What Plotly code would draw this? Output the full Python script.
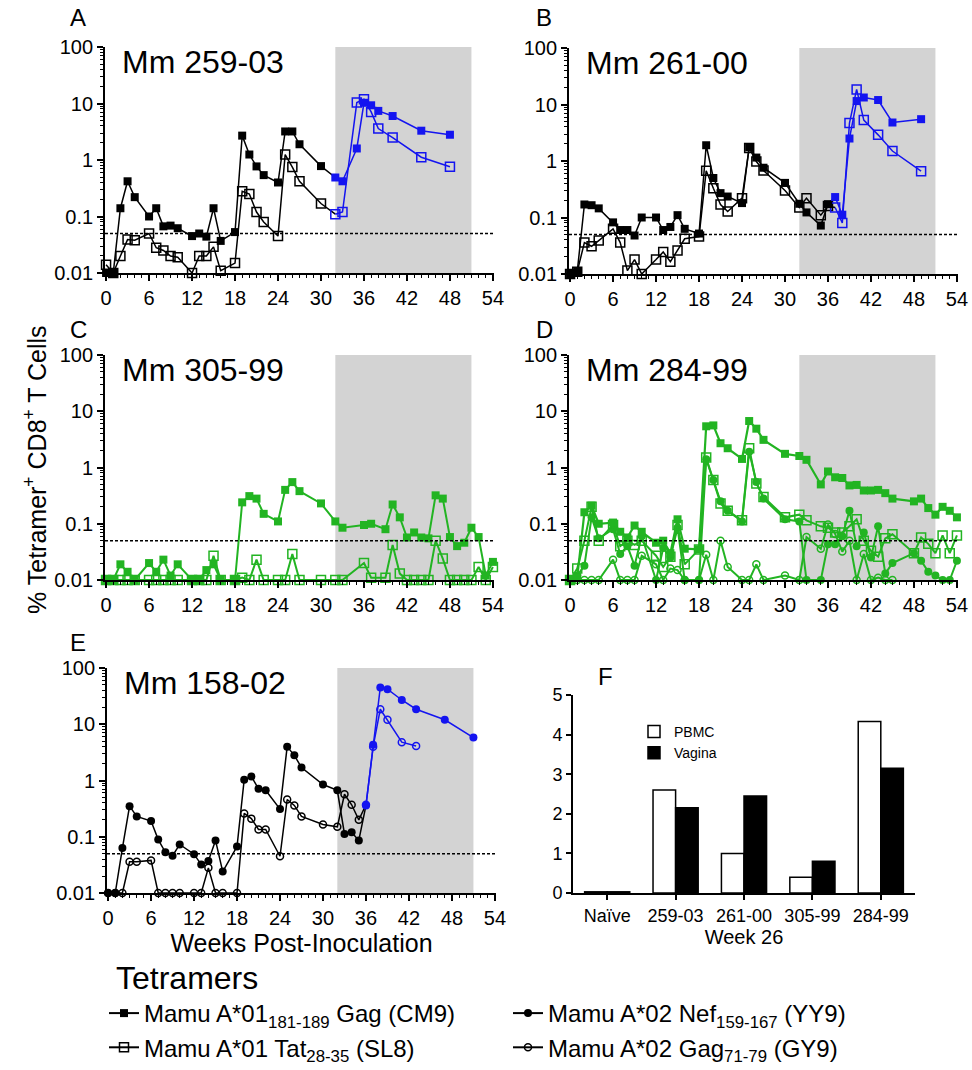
import plotly.graph_objects as go

W, H = 972, 1070
FONT = "Liberation Sans, Arial, Helvetica, sans-serif"
BLACK = "#000000"
BLUE = "#1414f0"
GREEN = "#22b422"
GRAY = "#d3d3d3"

# ---------------- data ----------------
gray_start, gray_end = 32, 51
threshold = 0.05

# Panel A  Mm 259-03
A_wk = [0, 1, 2, 3, 4, 6, 7, 8, 9, 10, 12, 13, 14, 15, 16, 18, 19, 20, 21, 22, 24, 25, 26, 27, 30,
        32, 33, 35, 36, 37, 38, 40, 44, 48]
A_cm9 = [0.01, 0.01, 0.14, 0.42, 0.22, 0.10, 0.14, 0.067, 0.069, 0.062, 0.045, 0.05, 0.044, 0.14, 0.037,
         0.053, 2.7, 1.25, 0.77, 0.54, 0.40, 3.2, 3.2, 1.9, 0.78, 0.49, 0.42, 1.6, 10.3, 9.3, 7.4, 6.0, 3.3, 2.8]
A_sl8 = [0.014, 0.01, 0.02, 0.039, 0.038, 0.05, 0.028, 0.025, 0.02, 0.019, 0.01, 0.02, 0.02, 0.029, 0.011,
         0.015, 0.28, 0.25, 0.12, 0.08, 0.045, 1.25, 0.75, 0.42, 0.17, 0.11, 0.12, 10.4, 11.9, 7.1, 3.6, 2.5,
         1.12, 0.76]
A_switch = 32

# Panel B  Mm 261-00
B_wk = [0, 1, 2, 3, 4, 6, 7, 8, 9, 10, 12, 13, 14, 15, 16, 18, 19, 20, 21, 22, 24, 25, 26, 27, 30, 32,
        33, 35, 36, 37, 38, 39, 40, 41, 43, 45, 49]
B_cm9 = [0.01, 0.011, 0.17, 0.165, 0.145, 0.082, 0.06, 0.06, 0.048, 0.10, 0.10, 0.06, 0.068, 0.11, 0.063,
         0.052, 1.9, 0.5, 0.27, 0.235, 0.18, 1.75, 1.15, 0.76, 0.41, 0.175, 0.123, 0.072, 0.172, 0.23,
         0.112, 2.5, 11.5, 13.3, 12.0, 4.8, 5.5]
B_sl8 = [0.01, 0.011, 0.036, 0.031, 0.039, 0.063, 0.036, 0.0115, 0.018, 0.01, 0.018, 0.0245, 0.0165,
         0.026, 0.042, 0.046, 0.67, 0.33, 0.17, 0.128, 0.22, 1.7, 0.98, 0.68, 0.3, 0.15, 0.22, 0.11, 0.16,
         0.15, 0.08, 4.7, 18.5, 5.3, 2.9, 1.5, 0.66]
B_switch = 37

# Panel C  Mm 305-99
C_wk = [0, 1, 2, 3, 4, 6, 7, 8, 9, 10, 12, 13, 14, 15, 16, 18, 19, 20, 21, 22, 24, 25, 26, 27, 30, 32,
        33, 36, 37, 39, 40, 41, 42, 43, 44, 45, 46, 47, 48, 49, 50, 51, 52, 53, 54]
C_cm9 = [0.01, 0.01, 0.019, 0.014, 0.01, 0.02, 0.014, 0.023, 0.012, 0.019, 0.01, 0.01, 0.015, 0.019, 0.01,
         0.01, 0.24, 0.31, 0.28, 0.15, 0.11, 0.4, 0.55, 0.38, 0.23, 0.11, 0.085, 0.095, 0.1, 0.08, 0.22,
         0.13, 0.057, 0.07, 0.057, 0.055, 0.32, 0.28, 0.058, 0.04, 0.046, 0.085, 0.058, 0.012, 0.021]
C_sl8 = [0.01, 0.01, 0.01, 0.01, 0.01, 0.01, 0.01, 0.01, 0.01, 0.01, 0.01, 0.01, 0.01, 0.027, 0.01, 0.01,
         0.011, 0.01, 0.023, 0.01, 0.01, 0.01, 0.029, 0.01, 0.01, 0.01, 0.01, 0.02, 0.011, 0.011, 0.042,
         0.013, 0.01, 0.01, 0.01, 0.01, 0.05, 0.024, 0.01, 0.01, 0.01, 0.01, 0.017, 0.01, 0.017]

# Panel D  Mm 284-99
D_wk = [0, 1, 2, 3, 4, 6, 7, 8, 9, 10, 12, 13, 14, 15, 16, 18, 19, 20, 21, 22, 24, 25, 26, 27, 30, 32,
        33, 35, 36, 37, 38, 39, 40, 41, 42, 43, 44, 45, 48, 49, 50, 51, 52, 53, 54]
D_cm9 = [0.01, 0.011, 0.16, 0.21, 0.1, 0.105, 0.072, 0.057, 0.093, 0.072, 0.046, 0.05, 0.03, 0.12, 0.036,
         0.035, 5.4, 5.6, 2.7, 2.2, 1.42, 6.7, 4.9, 3.1, 1.75, 1.6, 1.37, 0.5, 0.85, 0.67, 0.65, 0.48,
         0.49, 0.39, 0.39, 0.4, 0.35, 0.28, 0.25, 0.28, 0.19, 0.145, 0.2, 0.17, 0.13]
D_sl8 = [0.01, 0.016, 0.05, 0.2, 0.05, 0.095, 0.04, 0.05, 0.042, 0.05, 0.027, 0.017, 0.026, 0.095, 0.019,
         0.035, 1.5, 0.6, 0.23, 0.17, 0.115, 2.2, 0.52, 0.3, 0.13, 0.145, 0.115, 0.09, 0.085, 0.07, 0.07,
         0.09, 0.12, 0.05, 0.033, 0.026, 0.055, 0.065, 0.03, 0.057, 0.044, 0.03, 0.062, 0.03, 0.062]
D_yy9 = [0.01, 0.012, 0.018, 0.13, 0.055, 0.08, 0.029, 0.04, 0.018, 0.06, 0.01, 0.037, 0.025, 0.085, 0.01,
         0.01, 1.4, 0.6, 0.25, 0.17, 0.11, 1.9, 0.55, 0.28, 0.12, 0.11, 0.01, 0.01, 0.043, 0.043, 0.06,
         0.17, 0.04, 0.07, 0.025, 0.09, 0.013, 0.02, 0.03, 0.022, 0.014, 0.012, 0.01, 0.01, 0.022]
D_gy9_wk = [0, 1, 2, 3, 4, 6, 7, 8, 9, 10, 12, 13, 14, 15, 16, 18, 19, 20, 21, 22, 24, 25, 26, 27, 30,
            32, 33, 35, 36, 37, 38, 39, 40, 41, 42, 43, 44, 45]
D_gy9 = [0.01, 0.01, 0.01, 0.01, 0.01, 0.023, 0.01, 0.01, 0.01, 0.027, 0.019, 0.01, 0.016, 0.015, 0.01,
         0.01, 0.028, 0.01, 0.05, 0.017, 0.01, 0.01, 0.019, 0.01, 0.012, 0.01, 0.058, 0.036, 0.097, 0.066,
         0.032, 0.05, 0.01, 0.029, 0.01, 0.011, 0.01, 0.01]

# Panel E  Mm 158-02
E_yy9_wk = [0, 1, 2, 3, 4, 6, 7, 8, 9, 10, 12, 13, 14, 15, 16, 18, 19, 20, 21, 22, 24, 25, 26, 27, 30,
            32, 33, 34, 35, 36, 37, 38, 39, 41, 43, 47, 51]
E_yy9 = [0.01, 0.01, 0.063, 0.35, 0.23, 0.19, 0.089, 0.053, 0.046, 0.073, 0.049, 0.032, 0.037, 0.086,
         0.024, 0.067, 1.03, 1.18, 0.71, 0.67, 0.31, 4.0, 2.8, 1.7, 0.85, 0.67, 0.112, 0.12, 0.086, 0.36,
         4.3, 45.0, 42.0, 27.0, 18.5, 12.0, 5.8]
E_gy9_wk = [0, 1, 2, 3, 4, 6, 7, 8, 9, 10, 12, 13, 14, 15, 16, 18, 19, 20, 21, 22, 24, 25, 26, 27, 30,
            32, 33, 34, 35, 36, 37, 38, 39, 41, 43]
E_gy9 = [0.01, 0.01, 0.01, 0.036, 0.036, 0.038, 0.01, 0.01, 0.01, 0.01, 0.01, 0.01, 0.028, 0.01, 0.01,
         0.01, 0.26, 0.21, 0.135, 0.135, 0.045, 0.46, 0.36, 0.23, 0.165, 0.15, 0.57, 0.37, 0.2, 0.37, 4.0,
         18.5, 12.0, 4.8, 4.1]
E_switch = 36

# Panel F  week 26
F_cats = ["Naïve", "259-03", "261-00", "305-99", "284-99"]
F_pbmc = [0.03, 2.6, 1.0, 0.4, 4.33]
F_vagina = [0.03, 2.15, 2.45, 0.8, 3.15]

panel_names = ["Mm 259-03", "Mm 261-00", "Mm 305-99", "Mm 284-99", "Mm 158-02"]
panel_letters = ["A", "B", "C", "D", "E", "F"]
week_ticks = list(range(0, 55, 6))
y_ticks = [0.01, 0.1, 1, 10, 100]
y_ticktext = ["0.01", "0.1", "1", "10", "100"]

legend_names = ["Mamu A*01<sub>181-189</sub> Gag (CM9)",
                "Mamu A*01 Tat<sub>28-35</sub> (SL8)",
                "Mamu A*02 Nef<sub>159-167</sub> (YY9)",
                "Mamu A*02 Gag<sub>71-79</sub> (GY9)"]
legend_symbols = ["square", "square-open", "circle", "circle-open"]
legend_columns = ["legend", "legend", "legend3", "legend3"]

# ---------------- layout geometry (pixels) ----------------
boxes = {
    1: (105, 494, 47, 273),
    2: (569, 958, 48, 274),
    3: (105, 494, 355, 580),
    4: (569, 958, 355, 580),
    5: (107, 496, 668, 893),
    6: (573, 915, 695, 893),
}


def xdom(b):
    return [b[0] / W, b[1] / W]


def ydom(b):
    return [1 - b[3] / H, 1 - b[2] / H]


fig = go.Figure()


def ax(p):
    return ("x" if p == 1 else f"x{p}"), ("y" if p == 1 else f"y{p}")


def marker(sym, c):
    if sym.endswith("open"):
        size = 9 if sym.startswith("square") else 7
        return dict(symbol=sym, size=size, color=c, line=dict(color=c, width=1.5))
    return dict(symbol=sym, size=8, color=c, line=dict(color=c, width=0))


def add_series(p, wk, vals, sym, c1, lw=1.5, switch=None, c2=None):
    xa, ya = ax(p)
    common = dict(xaxis=xa, yaxis=ya, showlegend=False, cliponaxis=False, hoverinfo="x+y")
    if switch is None:
        fig.add_trace(go.Scatter(x=wk, y=vals, mode="lines+markers",
                                 line=dict(color=c1, width=lw), marker=marker(sym, c1), **common))
        return
    k = wk.index(switch)
    fig.add_trace(go.Scatter(x=wk[:k + 1], y=vals[:k + 1], mode="lines",
                             line=dict(color=c1, width=lw), **common))
    fig.add_trace(go.Scatter(x=wk[:k], y=vals[:k], mode="markers",
                             marker=marker(sym, c1), **common))
    fig.add_trace(go.Scatter(x=wk[k:], y=vals[k:], mode="lines+markers",
                             line=dict(color=c2, width=lw), marker=marker(sym, c2), **common))


add_series(1, A_wk, A_sl8, "square-open", BLACK, switch=A_switch, c2=BLUE)
add_series(1, A_wk, A_cm9, "square", BLACK, switch=A_switch, c2=BLUE)
add_series(2, B_wk, B_sl8, "square-open", BLACK, switch=B_switch, c2=BLUE)
add_series(2, B_wk, B_cm9, "square", BLACK, switch=B_switch, c2=BLUE)
add_series(3, C_wk, C_sl8, "square-open", GREEN, lw=2)
add_series(3, C_wk, C_cm9, "square", GREEN, lw=2)
add_series(4, D_gy9_wk, D_gy9, "circle-open", GREEN, lw=2)
add_series(4, D_wk, D_yy9, "circle", GREEN, lw=2)
add_series(4, D_wk, D_sl8, "square-open", GREEN, lw=2)
add_series(4, D_wk, D_cm9, "square", GREEN, lw=2.2)
add_series(5, E_gy9_wk, E_gy9, "circle-open", BLACK, switch=E_switch, c2=BLUE)
add_series(5, E_yy9_wk, E_yy9, "circle", BLACK, switch=E_switch, c2=BLUE)

# legend entries (Tetramers), two columns = two legends
for i, (name, sym, lg) in enumerate(zip(legend_names, legend_symbols, legend_columns)):
    fig.add_trace(go.Scatter(x=[None], y=[None], mode="lines+markers", name=name,
                             line=dict(color=BLACK, width=2), marker=marker(sym, BLACK),
                             xaxis="x", yaxis="y", showlegend=True, legend=lg,
                             legendgroup=f"g{i}"))

# Panel F bars
fig.add_trace(go.Bar(x=F_cats, y=F_pbmc, name="PBMC",
                     marker=dict(color="white", line=dict(color=BLACK, width=1.5)),
                     xaxis="x6", yaxis="y6", legend="legend2"))
fig.add_trace(go.Bar(x=F_cats, y=F_vagina, name="Vagina",
                     marker=dict(color=BLACK, line=dict(color=BLACK, width=1.5)),
                     xaxis="x6", yaxis="y6", legend="legend2"))

minor_log = [m * 10 ** e for e in range(-2, 2) for m in range(2, 10)]
tickfont = dict(family=FONT, size=20, color=BLACK)

layout = dict(
    width=W, height=H, margin=dict(l=0, r=0, t=0, b=0, autoexpand=False),
    paper_bgcolor="white", plot_bgcolor="rgba(0,0,0,0)",
    font=dict(family=FONT, color=BLACK),
    barmode="group", bargap=0.34, bargroupgap=0,
    showlegend=True, hovermode=False,
)

for p in range(1, 6):
    b = boxes[p]
    xk = "xaxis" if p == 1 else f"xaxis{p}"
    yk = "yaxis" if p == 1 else f"yaxis{p}"
    xa_name, ya_name = ax(p)
    layout[xk] = dict(domain=xdom(b), anchor=ya_name, range=[-0.15, 54.15],
                      tickvals=week_ticks, ticks="outside", ticklen=6, tickwidth=1.5,
                      minor=dict(dtick=1, tick0=0, ticks="outside", ticklen=3, tickwidth=1.2, tickcolor=BLACK),
                      showline=True, linecolor=BLACK, linewidth=1.8, tickcolor=BLACK,
                      showgrid=False, zeroline=False, tickfont=tickfont, fixedrange=True)
    layout[yk] = dict(domain=ydom(b), anchor=xa_name, type="log", range=[-2, 2],
                      tickvals=y_ticks, ticktext=y_ticktext, ticks="outside", ticklen=6, tickwidth=1.5,
                      minor=dict(tickvals=minor_log, ticks="outside", ticklen=3, tickwidth=1.2, tickcolor=BLACK),
                      showline=True, linecolor=BLACK, linewidth=1.8, tickcolor=BLACK,
                      showgrid=False, zeroline=False, tickfont=tickfont, fixedrange=True)

layout["xaxis5"]["title"] = dict(text="Weeks Post-Inoculation", font=dict(family=FONT, size=25), standoff=2)

b6 = boxes[6]
layout["xaxis6"] = dict(domain=xdom(b6), anchor="y6", type="category", range=[-0.5, 4.5],
                        ticks="outside", ticklen=5, tickwidth=1.5, tickcolor=BLACK,
                        showline=True, linecolor=BLACK, linewidth=1.8, showgrid=False,
                        tickfont=dict(family=FONT, size=18), fixedrange=True,
                        title=dict(text="Week 26", font=dict(family=FONT, size=20), standoff=2))
layout["yaxis6"] = dict(domain=ydom(b6), anchor="x6", range=[0, 5], dtick=1, tick0=0,
                        ticks="outside", ticklen=5, tickwidth=1.5, tickcolor=BLACK,
                        showline=True, linecolor=BLACK, linewidth=1.8, showgrid=False,
                        zeroline=False, tickfont=dict(family=FONT, size=18), fixedrange=True)

leg_common = dict(yanchor="bottom", y=0, xanchor="left", font=dict(family=FONT, size=24),
                  itemwidth=30, bgcolor="rgba(0,0,0,0)", tracegroupgap=0, orientation="v")
layout["legend"] = dict(x=104 / W, **leg_common)
layout["legend3"] = dict(x=508 / W, **leg_common)
layout["legend2"] = dict(x=634 / W, xanchor="left", y=1 - 716 / H, yanchor="top",
                         font=dict(family=FONT, size=14), bgcolor="rgba(0,0,0,0)",
                         itemwidth=30, traceorder="normal", tracegroupgap=0)

shapes = []
annotations = []
for p in range(1, 6):
    xa, ya = ax(p)
    shapes.append(dict(type="rect", xref=xa, yref=f"{ya} domain", x0=gray_start, x1=gray_end, y0=0, y1=1,
                       fillcolor=GRAY, line=dict(width=0), layer="below"))
    shapes.append(dict(type="line", xref=f"{xa} domain", yref=ya, x0=0, x1=1, y0=threshold, y1=threshold,
                       line=dict(color=BLACK, width=1.4, dash="3px,2px")))
    annotations.append(dict(text=panel_names[p - 1], xref=f"{xa} domain", yref=f"{ya} domain",
                            x=0.038, y=0.935, xanchor="left", yanchor="middle", showarrow=False,
                            font=dict(family=FONT, size=32)))

letter_pos = [(78, 18), (544, 18), (78, 329), (544, 329), (78, 642), (605, 676)]
for L, (lx, ly) in zip(panel_letters, letter_pos):
    annotations.append(dict(text=L, xref="paper", yref="paper", x=lx / W, y=1 - ly / H,
                            xanchor="center", yanchor="middle", showarrow=False,
                            font=dict(family=FONT, size=24)))

annotations.append(dict(text="% Tetramer<sup>+</sup> CD8<sup>+</sup> T Cells", xref="paper", yref="paper",
                        x=35 / W, y=1 - 470 / H, textangle=-90, showarrow=False,
                        xanchor="center", yanchor="middle", font=dict(family=FONT, size=25)))
annotations.append(dict(text="Tetramers", xref="paper", yref="paper", x=114 / W, y=1 - 978 / H,
                        xanchor="left", yanchor="middle", showarrow=False,
                        font=dict(family=FONT, size=32)))

layout["shapes"] = shapes
layout["annotations"] = annotations
fig.update_layout(**layout)

# remove the browser's default page margin so the figure sits at the window origin
page_fix = ("document.body.style.margin='0px';document.body.style.padding='0px';"
            "document.body.style.overflow='hidden';document.documentElement.style.overflow='hidden';")
fig.write_html("out.html", post_script=page_fix, config={"displayModeBar": False})
